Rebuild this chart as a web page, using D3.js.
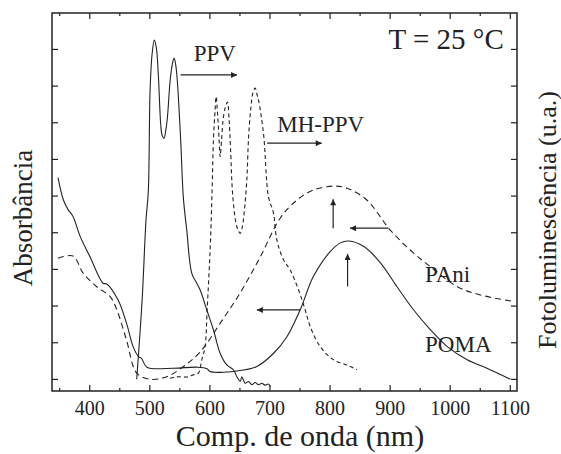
<!DOCTYPE html>
<html>
<head>
<meta charset="utf-8">
<script src="https://cdn.jsdelivr.net/npm/d3@7"></script>
<style>
  body { margin: 0; background: #fff; }
  svg text { font-family: "Liberation Serif", "Times New Roman", serif; fill: #222; }
</style>
</head>
<body>
<div id="main"></div>
<script>
const ctx = {
    w: 561,
    h: 454,
    left: 52,
    right: 517,
    top: 13,
    bottom: 391
};

// x ticks (nm)
const X_TICKS = [400, 500, 600, 700, 800, 900, 1000, 1100];
const X_MINOR = [350, 450, 550, 650, 750, 850, 950, 1050];
const Y_TICKS = [0, 1, 2, 3, 4, 5, 6, 7, 8, 9];

// POMA absorbance (solid) [nm, a.u.]
const pomaAbs = [
    [348, 5.49], [357, 4.88], [365, 4.61], [373, 4.43], [385, 3.88], [401, 3.34],
    [423, 2.61], [429, 2.59], [448, 2.15], [462, 1.52], [473, 0.88], [482, 0.61],
    [487, 0.56], [496, 0.32], [540, 0.29], [579, 0.32], [596, 0.28], [601, 0.20],
    [623, 0.18], [651, 0.23], [679, 0.34], [707, 0.70], [729, 1.15], [751, 1.88],
    [773, 2.79], [801, 3.47], [818, 3.71], [832, 3.76], [857, 3.61], [885, 3.16],
    [912, 2.52], [940, 1.88], [968, 1.34], [996, 0.88], [1029, 0.52], [1062, 0.29],
    [1101, -0.01]
];

// PAni absorbance (dashed)
const paniAbs = [
    [348, 3.29], [373, 3.35], [390, 2.88], [412, 2.52], [435, 2.24], [446, 1.88],
    [462, 1.06], [479, 0.16], [501, -0.01], [529, 0.06], [557, 0.34], [585, 0.74],
    [618, 1.52], [651, 2.34], [685, 3.34], [718, 4.39], [746, 4.88], [773, 5.15],
    [807, 5.26], [829, 5.20], [862, 4.88], [901, 4.06], [940, 3.43], [968, 3.06],
    [1012, 2.52], [1051, 2.29], [1107, 2.11]
];

// PPV photoluminescence (solid)
const ppvPL = [
    [479, -0.01], [488, 2.15], [494.5, 4.34], [498.3, 5.11], [501.2, 7.83], [504.5, 8.84],
    [508.3, 9.24], [511.7, 9.03], [515, 8.29], [519, 6.93], [521.2, 6.65], [524.5, 6.56],
    [527, 6.74], [530, 7.11], [534.5, 8.11], [537.8, 8.54], [541.2, 8.75], [544, 8.56],
    [546.7, 8.11], [552.3, 6.47], [556.7, 4.93], [562.3, 4.06], [570.7, 2.88], [579, 2.61],
    [584.5, 2.43], [595.7, 1.88], [606.7, 1.34], [617.8, 0.70], [629, 0.38], [640, 0.25],
    [645.7, 0.06], [651.2, -0.07], [654, 0.06], [659.5, -0.12], [665, -0.07], [670.7, -0.16],
    [676.2, -0.10], [681.7, -0.16], [687.3, -0.12], [692.8, -0.17], [698.3, -0.14], [701.2, -0.21]
];

// MH-PPV photoluminescence (short dashes)
const mhppvPL = [
    [534.5, 0.02], [542.8, 0.05], [551.2, 0.06], [562.3, 0.05], [573.3, 0.11], [581.7, 0.16],
    [587.3, 0.52], [592.8, 0.88], [596.2, 1.88], [601.2, 3.52], [604.5, 5.15], [606.7, 6.52],
    [609.5, 7.34], [611.2, 7.70], [613.7, 7.20], [616.2, 6.52], [617.8, 6.06], [620.3, 6.52],
    [622.8, 7.06], [626.2, 7.39], [630, 7.55], [632.8, 7.06], [635.3, 6.24], [639, 4.97],
    [645.7, 4.15], [651.2, 3.97], [654.5, 4.12], [657.8, 4.52], [662.3, 5.43], [665, 6.52],
    [668.7, 7.34], [672.8, 7.83], [676.2, 7.93], [679.5, 7.74], [681.7, 7.61], [690, 6.70],
    [698.3, 4.97], [706.7, 4.52], [712.3, 3.79], [723.3, 3.25], [734.5, 2.97], [748.3, 2.43],
    [759.5, 1.88], [767.8, 1.43], [784.5, 0.88], [806.7, 0.52], [829, 0.38], [845.7, 0.25]
];

// annotation arrows [x1, y1, x2, y2] (head at x2,y2)
const arrows = [
    [552, 8.29, 646, 8.29],
    [696, 6.43, 787, 6.43],
    [751, 1.88, 679, 1.88],
    [806, 4.11, 806, 4.90],
    [898, 4.11, 834, 4.11],
    [830, 2.52, 830, 3.41]
];

// annotation labels
const labels = [
    {text: "PPV", x: 574, y: 8.67, anchor: "start", size: 23},
    {text: "MH-PPV", x: 713, y: 6.74, anchor: "start", size: 23},
    {text: "PAni", x: 959, y: 2.65, anchor: "start", size: 23},
    {text: "POMA", x: 959, y: 0.74, anchor: "start", size: 23},
    {text: "T = 25 °C", x: 1090, y: 9.0, anchor: "end", size: 29}
];

const xScale = d3.scaleLinear().domain([338, 1112]).range([ctx.left, ctx.right]);
const yScale = d3.scaleLinear().domain([-0.33, 9.98]).range([ctx.bottom, ctx.top]);

function createViz(){
    let svgEl = d3.select("#main").append("svg")
        .attr("width", ctx.w)
        .attr("height", ctx.h);

    svgEl.append("defs").append("marker")
        .attr("id", "head")
        .attr("markerUnits", "userSpaceOnUse")
        .attr("viewBox", "0 0 10 10")
        .attr("refX", 10).attr("refY", 5)
        .attr("markerWidth", 8).attr("markerHeight", 6)
        .attr("orient", "auto")
        .append("path")
        .attr("d", "M0,0 L10,5 L0,10 Z")
        .attr("fill", "#222");

    drawAxes(svgEl);
    drawCurves(svgEl);
    drawNotes(svgEl);
};

function drawAxes(svgEl){
    let h = ctx.bottom - ctx.top;
    let w = ctx.right - ctx.left;

    let bottom = svgEl.append("g").attr("transform", `translate(0,${ctx.bottom})`)
        .call(d3.axisBottom(xScale).tickValues(X_TICKS).tickSize(-6).tickPadding(10).tickFormat(d3.format("d")));
    bottom.append("g").call(d3.axisBottom(xScale).tickValues(X_MINOR).tickSize(-3).tickFormat(""));
    let top = svgEl.append("g").attr("transform", `translate(0,${ctx.top})`)
        .call(d3.axisTop(xScale).tickValues(X_TICKS).tickSize(-6).tickFormat(""));
    top.append("g").call(d3.axisTop(xScale).tickValues(X_MINOR).tickSize(-3).tickFormat(""));
    svgEl.append("g").attr("transform", `translate(${ctx.left},0)`)
        .call(d3.axisLeft(yScale).tickValues(Y_TICKS).tickSize(-6).tickFormat(""));
    svgEl.append("g").attr("transform", `translate(${ctx.right},0)`)
        .call(d3.axisRight(yScale).tickValues(Y_TICKS).tickSize(-6).tickFormat(""));

    svgEl.selectAll(".domain").remove();
    svgEl.selectAll(".tick line").attr("stroke", "#222").attr("stroke-width", 1.2);
    svgEl.selectAll(".tick text")
        .style("font-family", "'Liberation Serif', 'Times New Roman', serif")
        .style("font-size", "20px")
        .attr("fill", "#222");

    svgEl.append("rect")
        .attr("x", ctx.left).attr("y", ctx.top)
        .attr("width", w).attr("height", h)
        .attr("fill", "none")
        .attr("stroke", "#222")
        .attr("stroke-width", 1.5);

    svgEl.append("text")
        .attr("x", 300).attr("y", 446)
        .attr("text-anchor", "middle")
        .style("font-size", "30px")
        .text("Comp. de onda (nm)");

    svgEl.append("text")
        .attr("transform", "translate(32,218) rotate(-90)")
        .attr("text-anchor", "middle")
        .style("font-size", "27px")
        .text("Absorbância");

    svgEl.append("text")
        .attr("transform", "translate(556,220) rotate(-90)")
        .attr("text-anchor", "middle")
        .style("font-size", "26px")
        .text("Fotoluminescência (u.a.)");
}

function drawCurves(svgEl){
    let line = d3.line()
        .x(d => xScale(d[0]))
        .y(d => yScale(d[1]))
        .curve(d3.curveCatmullRom.alpha(0.5));
    let g = svgEl.append("g").attr("id", "curves");
    let series = [
        {data: pomaAbs, dash: null},
        {data: paniAbs, dash: "6,4"},
        {data: ppvPL, dash: null},
        {data: mhppvPL, dash: "4,3"}
    ];
    g.selectAll("path")
        .data(series)
        .enter()
        .append("path")
        .attr("d", d => line(d.data))
        .attr("fill", "none")
        .attr("stroke", "#222")
        .attr("stroke-width", 1.1)
        .attr("stroke-dasharray", d => d.dash);
}

function drawNotes(svgEl){
    svgEl.append("g").selectAll("line")
        .data(arrows)
        .enter()
        .append("line")
        .attr("x1", d => xScale(d[0]))
        .attr("y1", d => yScale(d[1]))
        .attr("x2", d => xScale(d[2]))
        .attr("y2", d => yScale(d[3]))
        .attr("stroke", "#222")
        .attr("stroke-width", 1.2)
        .attr("marker-end", "url(#head)");

    svgEl.append("g").selectAll("text")
        .data(labels)
        .enter()
        .append("text")
        .attr("x", d => xScale(d.x))
        .attr("y", d => yScale(d.y))
        .attr("text-anchor", d => d.anchor)
        .style("font-size", d => d.size + "px")
        .text(d => d.text);
}

createViz();
</script>
</body>
</html>
